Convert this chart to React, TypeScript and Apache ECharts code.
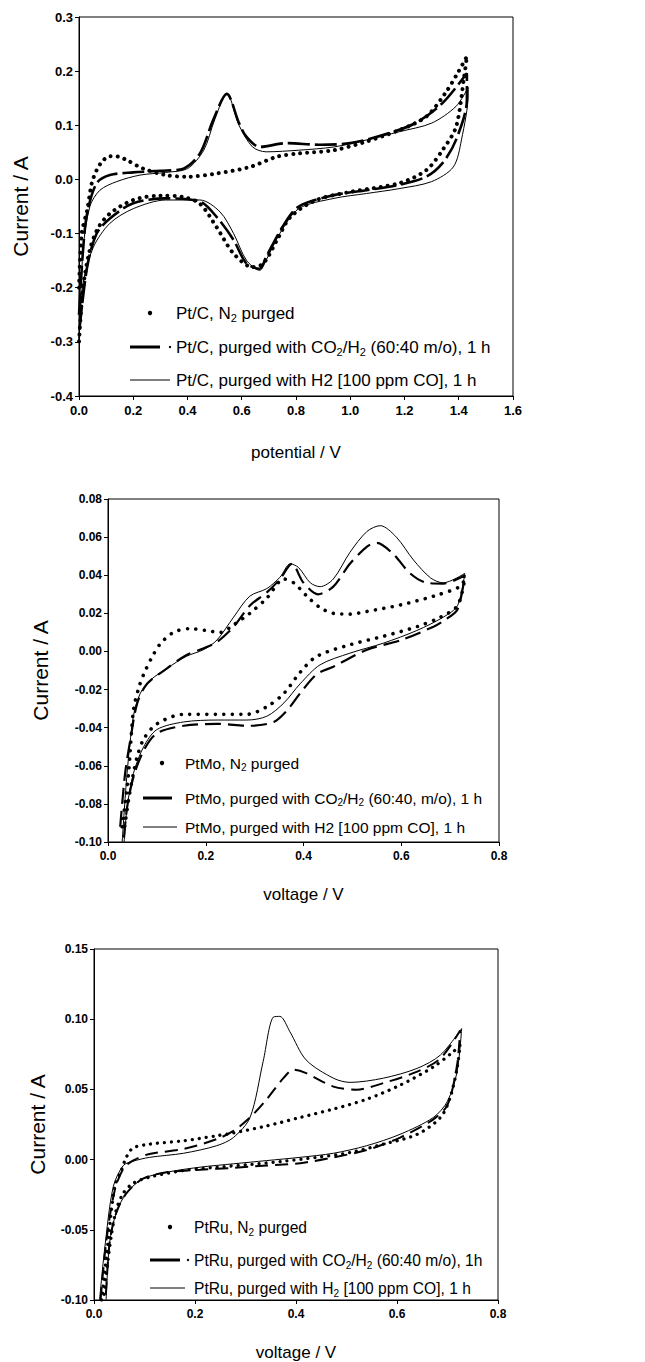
import React, { useEffect, useRef } from "react";
import * as echarts from "echarts";

// ---------- Panel 1: Pt/C ----------
const ptcN2: number[][] = [
  [0.0, -0.2], [0.01, -0.1], [0.03, -0.057], [0.047, -0.007], [0.065, 0.017], [0.085, 0.033], [0.114, 0.043],
  [0.145, 0.042], [0.175, 0.036], [0.237, 0.02], [0.32, 0.008], [0.4, 0.005], [0.507, 0.011], [0.63, 0.023],
  [0.73, 0.042], [0.81, 0.048], [0.94, 0.054], [1.06, 0.07], [1.18, 0.091], [1.28, 0.116], [1.35, 0.159],
  [1.4, 0.2], [1.43, 0.227],
  [1.42, 0.19], [1.39, 0.097], [1.34, 0.054], [1.28, 0.017], [1.18, -0.007], [1.0, -0.023], [0.875, -0.038],
  [0.78, -0.069], [0.73, -0.112], [0.68, -0.155], [0.64, -0.162], [0.57, -0.137], [0.507, -0.088],
  [0.446, -0.045], [0.38, -0.032], [0.3, -0.03], [0.2, -0.038], [0.114, -0.063], [0.07, -0.09], [0.04, -0.13],
  [0.015, -0.2], [0.0, -0.3],
];
const ptcCO2H2: number[][] = [
  [0.0, -0.25], [0.015, -0.13], [0.03, -0.063], [0.065, -0.007], [0.114, 0.008], [0.2, 0.013], [0.3, 0.016],
  [0.385, 0.02], [0.446, 0.048], [0.495, 0.11], [0.545, 0.158], [0.59, 0.104], [0.617, 0.079], [0.666, 0.06],
  [0.765, 0.067], [0.888, 0.064], [1.0, 0.067], [1.12, 0.082], [1.24, 0.104], [1.34, 0.141], [1.43, 0.196],
  [1.43, 0.147], [1.39, 0.073], [1.34, 0.03], [1.28, 0.005], [1.18, -0.01], [1.06, -0.02], [0.94, -0.029],
  [0.81, -0.05], [0.75, -0.088], [0.69, -0.143], [0.666, -0.165], [0.617, -0.155], [0.57, -0.112],
  [0.507, -0.069], [0.446, -0.041], [0.32, -0.035], [0.2, -0.044], [0.114, -0.072], [0.065, -0.1],
  [0.03, -0.162], [0.0, -0.285],
];
const ptcH2CO: number[][] = [
  [0.0, -0.3], [0.015, -0.13], [0.04, -0.05], [0.077, -0.02], [0.139, -0.004], [0.225, 0.008], [0.32, 0.013],
  [0.4, 0.02], [0.46, 0.054], [0.5, 0.11], [0.545, 0.159], [0.59, 0.1], [0.64, 0.06], [0.69, 0.051],
  [0.81, 0.054], [0.94, 0.06], [1.06, 0.073], [1.18, 0.088], [1.3, 0.104], [1.39, 0.135], [1.435, 0.17],
  [1.435, 0.159], [1.41, 0.073], [1.38, 0.023], [1.3, -0.004], [1.18, -0.017], [1.06, -0.026], [0.94, -0.035],
  [0.81, -0.054], [0.74, -0.1], [0.69, -0.149], [0.666, -0.168], [0.617, -0.149], [0.57, -0.1], [0.52, -0.06],
  [0.446, -0.038], [0.32, -0.038], [0.2, -0.054], [0.114, -0.081], [0.053, -0.125], [0.015, -0.192], [0.0, -0.3],
];

// ---------- Panel 2: PtMo ----------
const ptmoN2: number[][] = [
  [0.029, -0.092], [0.042, -0.064], [0.052, -0.031], [0.063, -0.019], [0.073, -0.012], [0.09, -0.003],
  [0.107, 0.004], [0.134, 0.01], [0.168, 0.012], [0.2, 0.011], [0.23, 0.01], [0.257, 0.014], [0.29, 0.02],
  [0.325, 0.028], [0.36, 0.038], [0.38, 0.036], [0.407, 0.029], [0.434, 0.023], [0.461, 0.02], [0.495, 0.0196],
  [0.53, 0.021], [0.6, 0.0245], [0.666, 0.029], [0.72, 0.034], [0.73, 0.038],
  [0.715, 0.024], [0.68, 0.018], [0.632, 0.013], [0.564, 0.008], [0.495, 0.0035], [0.427, -0.0026],
  [0.393, -0.011], [0.36, -0.022], [0.325, -0.029], [0.284, -0.033], [0.223, -0.033], [0.155, -0.033],
  [0.1, -0.038], [0.073, -0.046], [0.06, -0.055], [0.052, -0.064], [0.042, -0.078], [0.032, -0.096],
];
const ptmoCO2H2: number[][] = [
  [0.025, -0.092], [0.035, -0.064], [0.046, -0.046], [0.06, -0.027], [0.08, -0.017], [0.12, -0.009],
  [0.16, -0.002], [0.196, 0.0017], [0.223, 0.005], [0.257, 0.013], [0.29, 0.024], [0.325, 0.031],
  [0.352, 0.038], [0.376, 0.046], [0.4, 0.036], [0.43, 0.03], [0.461, 0.034], [0.495, 0.046], [0.53, 0.055],
  [0.55, 0.057], [0.584, 0.051], [0.618, 0.041], [0.652, 0.036], [0.686, 0.0356], [0.73, 0.04],
  [0.715, 0.022], [0.686, 0.016], [0.666, 0.013], [0.6, 0.006], [0.53, 0.0009], [0.461, -0.008],
  [0.427, -0.012], [0.393, -0.022], [0.366, -0.031], [0.339, -0.037], [0.29, -0.039], [0.223, -0.038],
  [0.155, -0.039], [0.1, -0.043], [0.073, -0.052], [0.052, -0.066], [0.039, -0.082], [0.032, -0.1],
];
const ptmoH2CO: number[][] = [
  [0.029, -0.1], [0.039, -0.064], [0.052, -0.034], [0.066, -0.022], [0.087, -0.015], [0.12, -0.009],
  [0.16, -0.0026], [0.196, 0.001], [0.223, 0.006], [0.257, 0.018], [0.29, 0.029], [0.325, 0.033],
  [0.352, 0.039], [0.373, 0.046], [0.39, 0.044], [0.414, 0.036], [0.434, 0.034], [0.461, 0.038],
  [0.495, 0.052], [0.53, 0.063], [0.557, 0.066], [0.59, 0.06], [0.625, 0.048], [0.66, 0.0386], [0.686, 0.036],
  [0.73, 0.041],
  [0.715, 0.024], [0.686, 0.018], [0.632, 0.011], [0.564, 0.0044], [0.495, -0.0009], [0.434, -0.007],
  [0.393, -0.017], [0.36, -0.027], [0.325, -0.034], [0.284, -0.036], [0.223, -0.036], [0.155, -0.037],
  [0.1, -0.041], [0.073, -0.05], [0.052, -0.064], [0.039, -0.082], [0.033, -0.1],
];

// ---------- Panel 3: PtRu ----------
const ptruN2: number[][] = [
  [0.015, -0.1], [0.024, -0.071], [0.041, -0.0195], [0.054, -0.0078], [0.064, 0.0016], [0.077, 0.0082],
  [0.11, 0.011], [0.177, 0.0134], [0.243, 0.017], [0.276, 0.019], [0.342, 0.024], [0.408, 0.03], [0.474, 0.036],
  [0.54, 0.043], [0.606, 0.053], [0.672, 0.066], [0.712, 0.077], [0.725, 0.0815],
  [0.719, 0.065], [0.705, 0.044], [0.686, 0.03], [0.64, 0.018], [0.573, 0.011], [0.507, 0.005],
  [0.441, 0.0016], [0.375, -0.0012], [0.309, -0.0035], [0.243, -0.0054], [0.177, -0.0078], [0.11, -0.0125],
  [0.077, -0.017], [0.058, -0.024], [0.044, -0.036], [0.034, -0.055], [0.024, -0.083], [0.019, -0.1],
];
const ptruCO2H2: number[][] = [
  [0.013, -0.1], [0.024, -0.059], [0.041, -0.022], [0.058, -0.0066], [0.077, -0.0007], [0.11, 0.004],
  [0.177, 0.0075], [0.243, 0.0146], [0.276, 0.0204], [0.309, 0.03], [0.342, 0.043], [0.375, 0.058],
  [0.395, 0.064], [0.42, 0.0616], [0.474, 0.052], [0.52, 0.0498], [0.573, 0.0545], [0.64, 0.0627],
  [0.686, 0.072], [0.725, 0.092],
  [0.719, 0.0674], [0.7, 0.039], [0.672, 0.0287], [0.606, 0.0157], [0.54, 0.0068], [0.474, 0.0016],
  [0.408, -0.0026], [0.342, -0.0042], [0.276, -0.0059], [0.21, -0.0073], [0.144, -0.009], [0.097, -0.0136],
  [0.064, -0.024], [0.044, -0.038], [0.031, -0.059], [0.023, -0.1],
];
const ptruH2CO: number[][] = [
  [0.011, -0.1], [0.021, -0.064], [0.038, -0.0195], [0.058, -0.0042], [0.077, -0.0012], [0.11, 0.0016],
  [0.177, 0.0045], [0.243, 0.0099], [0.276, 0.0157], [0.309, 0.03], [0.335, 0.07], [0.355, 0.1015],
  [0.368, 0.102], [0.388, 0.091], [0.42, 0.071], [0.474, 0.058], [0.507, 0.055], [0.573, 0.058],
  [0.64, 0.065], [0.686, 0.0745], [0.728, 0.0933],
  [0.719, 0.0627], [0.7, 0.0416], [0.672, 0.03], [0.606, 0.018], [0.54, 0.0099], [0.474, 0.0045],
  [0.408, 0.0016], [0.342, -0.0007], [0.276, -0.003], [0.21, -0.0054], [0.144, -0.009], [0.097, -0.0136],
  [0.064, -0.024], [0.044, -0.038], [0.031, -0.059], [0.024, -0.1],
];

const FONT = "Liberation Sans";

type Panel = {
  grid: { left: number; top: number; width: number; height: number };
  xMax: number; yMin: number; yMax: number; yInt: number; yDec: number;
  xName: string; xGap: number; yGap: number;
  tickFont: number; legendFont: number;
  dot: { w: number; gap: number };
  dash: { w: number; len: number; gap: number };
  data: number[][][];
  names: string[];
};

const panels: Panel[] = [
  {
    grid: { left: 79, top: 17, width: 434, height: 379 },
    xMax: 1.6, yMin: -0.4, yMax: 0.3, yInt: 0.1, yDec: 1,
    xName: "potential / V", xGap: 48, yGap: 48, tickFont: 13, legendFont: 17,
    dot: { w: 4, gap: 7 }, dash: { w: 2.6, len: 22, gap: 5 },
    data: [ptcN2, ptcCO2H2, ptcH2CO],
    names: ["Pt/C, N2 purged", "Pt/C, purged with CO2/H2 (60:40 m/o), 1 h", "Pt/C, purged with H2 [100 ppm CO], 1 h"],
  },
  {
    grid: { left: 108, top: 499, width: 391, height: 343 },
    xMax: 0.8, yMin: -0.1, yMax: 0.08, yInt: 0.02, yDec: 2,
    xName: "voltage / V", xGap: 44, yGap: 57, tickFont: 12, legendFont: 15.5,
    dot: { w: 3.6, gap: 8.5 }, dash: { w: 2.2, len: 16, gap: 7 },
    data: [ptmoN2, ptmoCO2H2, ptmoH2CO],
    names: ["PtMo, N2 purged", "PtMo, purged with CO2/H2 (60:40, m/o), 1 h", "PtMo, purged with H2 [100 ppm CO], 1 h"],
  },
  {
    grid: { left: 94, top: 949, width: 404, height: 355 },
    xMax: 0.8, yMin: -0.1, yMax: 0.15, yInt: 0.05, yDec: 2,
    xName: "voltage / V", xGap: 44, yGap: 46, tickFont: 12, legendFont: 15.6,
    dot: { w: 3.3, gap: 7 }, dash: { w: 2, len: 13, gap: 7 },
    data: [ptruN2, ptruCO2H2, ptruH2CO],
    names: ["PtRu, N2 purged", "PtRu, purged with CO2/H2 (60:40 m/o), 1h", "PtRu, purged with H2 [100 ppm CO], 1 h"],
  },
];

const legendPos = [
  { dotX: 150, dash: [130, 160], dashDot: 170, solid: [130, 170], textX: 176, ys: [313, 347, 380] },
  { dotX: 162, dash: [143, 172], dashDot: null, solid: [143, 177], textX: 185, ys: [763, 798, 827] },
  { dotX: 170, dash: [150, 180], dashDot: 188, solid: [150, 185], textX: 194, ys: [1227, 1260, 1288] },
];

function makeRich(fs: number) {
  return {
    a: { fontSize: fs, fontFamily: FONT, lineHeight: Math.round(fs * 1.25), verticalAlign: "middle", fill: "#000" },
    s: { fontSize: Math.round(fs * 0.66), fontFamily: FONT, lineHeight: Math.round(fs * 0.66), verticalAlign: "bottom", fill: "#000" },
  };
}

// mark which "2" characters are chemical subscripts
function toRich(label: string): string {
  const subs = new Set<number>();
  const re = /(N|CO|H)2/g;
  let m: RegExpExecArray | null;
  while ((m = re.exec(label))) {
    const idx = m.index + m[1].length;
    // "H2 [100 ppm CO]" is written with a plain "2" in the Pt/C and PtMo legends
    if (m[1] === "H" && label.slice(idx + 1, idx + 3) === " [" && !label.startsWith("PtRu")) continue;
    subs.add(idx);
  }
  let out = "";
  let buf = "";
  for (let i = 0; i < label.length; i++) {
    if (subs.has(i)) {
      if (buf) out += `{a|${buf}}`;
      buf = "";
      out += `{s|2}`;
    } else buf += label[i];
  }
  if (buf) out += `{a|${buf}}`;
  return out;
}

export default function App() {
  const ref = useRef<HTMLDivElement>(null);
  useEffect(() => {
    if (!ref.current) return;
    const chart = echarts.init(ref.current, undefined, { renderer: "svg" });
    const grids: any[] = [];
    const xAxes: any[] = [];
    const yAxes: any[] = [];
    const series: any[] = [];
    const graphic: any[] = [];
    panels.forEach((p, i) => {
      grids.push({ ...p.grid, show: true, borderColor: "#000", borderWidth: 1, backgroundColor: "transparent" });
      xAxes.push({
        type: "value", gridIndex: i, min: 0, max: p.xMax, interval: 0.2,
        name: p.xName, nameLocation: "middle", nameGap: p.xGap,
        nameTextStyle: { fontFamily: FONT, fontSize: 17, color: "#000" },
        axisLine: { show: true, onZero: false, lineStyle: { color: "#000", width: 1 } },
        axisTick: { show: true, inside: false, length: 4, lineStyle: { color: "#000" } },
        axisLabel: { fontFamily: FONT, fontSize: p.tickFont, color: "#000", fontWeight: "bold", margin: 8,
          formatter: (v: number) => (Math.abs(v) < 1e-9 ? 0 : v).toFixed(1) },
        splitLine: { show: false },
      });
      yAxes.push({
        type: "value", gridIndex: i, min: p.yMin, max: p.yMax, interval: p.yInt,
        name: "Current / A", nameLocation: "middle", nameGap: p.yGap,
        nameTextStyle: { fontFamily: FONT, fontSize: 21, color: "#000" },
        axisLine: { show: true, onZero: false, lineStyle: { color: "#000", width: 1 } },
        axisTick: { show: true, inside: false, length: 4, lineStyle: { color: "#000" } },
        axisLabel: { fontFamily: FONT, fontSize: p.tickFont, color: "#000", fontWeight: "bold", margin: 6,
          formatter: (v: number) => (Math.abs(v) < 1e-9 ? 0 : v).toFixed(p.yDec) },
        splitLine: { show: false },
      });
      const styles = [
        { color: "#000", width: p.dot.w, type: [0.01, p.dot.gap], cap: "round" },
        { color: "#000", width: p.dash.w, type: [p.dash.len, p.dash.gap], cap: "butt" },
        { color: "#000", width: 1, type: "solid" },
      ];
      p.data.forEach((d, k) => {
        series.push({
          type: "line", name: p.names[k], xAxisIndex: i, yAxisIndex: i, data: d,
          showSymbol: false, smooth: 0.3, lineStyle: styles[k], clip: true,
        });
      });
      const L = legendPos[i];
      const rich = makeRich(p.legendFont);
      graphic.push({ type: "circle", shape: { cx: L.dotX, cy: L.ys[0], r: 2.2 }, style: { fill: "#000" } });
      graphic.push({ type: "line", shape: { x1: L.dash[0], y1: L.ys[1], x2: L.dash[1], y2: L.ys[1] }, style: { stroke: "#000", lineWidth: 3 } });
      if (L.dashDot !== null) graphic.push({ type: "circle", shape: { cx: L.dashDot, cy: L.ys[1], r: 1.2 }, style: { fill: "#000" } });
      graphic.push({ type: "line", shape: { x1: L.solid[0], y1: L.ys[2], x2: L.solid[1], y2: L.ys[2] }, style: { stroke: "#000", lineWidth: 1 } });
      p.names.forEach((n, k) => {
        graphic.push({
          type: "text", x: L.textX, y: L.ys[k],
          style: { text: toRich(n), rich, verticalAlign: "middle", align: "left", fill: "#000" },
        });
      });
    });
    chart.setOption({
      animation: false,
      backgroundColor: "#fff",
      grid: grids, xAxis: xAxes, yAxis: yAxes, series, graphic,
    });
    return () => chart.dispose();
  }, []);
  return <div ref={ref} style={{ position: "absolute", left: 0, top: 0, width: 645, height: 1362 }} />;
}
